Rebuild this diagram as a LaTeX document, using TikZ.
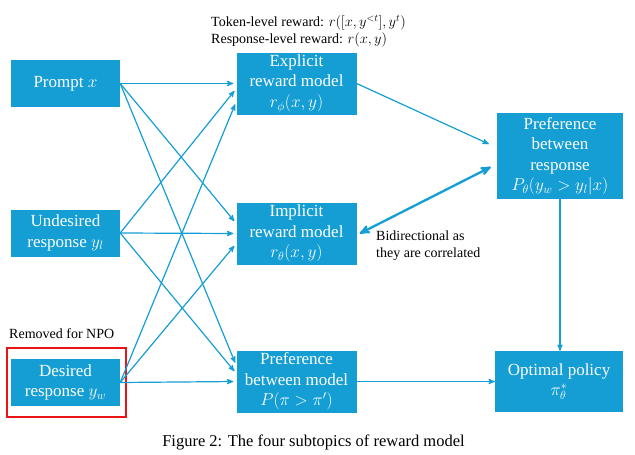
\documentclass[tikz,border=0pt]{standalone}
\usepackage{fontspec}
\setmainfont{Liberation Serif}
\usetikzlibrary{arrows,positioning}
\definecolor{rmblue}{RGB}{20,158,212}
\definecolor{npored}{RGB}{235,20,20}
\tikzset{main node/.style={rectangle,fill=rmblue,draw=none,text=white,align=center,inner sep=1pt,font=\fontsize{17}{20.5}\selectfont},
         in node/.style={main node,minimum width=109pt,minimum height=47pt},
         mid node/.style={main node,minimum width=120pt,minimum height=62pt},
         edge label/.style={rectangle,draw=none,fill=none,inner sep=0pt,font=\fontsize{14}{16.5}\selectfont},
         norm edge/.style={->,rmblue,line width=1.2pt},
         in edge/.style={norm edge,shorten >=3pt},
         bidir edge/.style={<->,rmblue,line width=2.3pt},
         npo frame/.style={draw=npored,line width=1.5pt},
}
\begin{document}
\begin{tikzpicture}[>=stealth', x=1pt, y=-1pt]
% \draw[help lines] (0,0) grid (635,455);
\useasboundingbox (0,0) rectangle (635,455);

\node[in node] (x) at (65.5,83.5) {Prompt $x$};
\node[in node] (yl) at (65.5,233) {Undesired\\response $y_l$};
\node[in node] (yw) at (65.5,382.5) {Desired\\response $y_w$};

\node[mid node] (er) at (296.5,83.5) {Explicit\\reward model\\$r_\phi(x,y)$};
\node[mid node] (ir) at (296.5,233.5) {Implicit\\reward model\\$r_\theta(x,y)$};
\node[mid node] (pm) at (296.5,381.5) {Preference\\between model\\$P(\pi>\pi')$};

\node[main node,minimum width=126pt,minimum height=86pt] (pr) at (560,156) {Preference\\between\\response\\$P_\theta(y_w>y_l|x)$};
\node[main node,minimum width=128pt,minimum height=61pt] (opt) at (559,381.5) {Optimal policy\\$\pi_\theta^*$};

\path[npo frame] ([xshift=-4pt,yshift=-11pt]yw.south west) rectangle ([xshift=6pt,yshift=11pt]yw.north east);

\node[edge label,anchor=base west] (tok) at (211,27) {Token-level reward: $r([x,y^{<t}],y^t)$};
\node[edge label,anchor=base west] (resp) at (211,43) {Response-level reward: $r(x,y)$};
\node[edge label,anchor=base west] (npo) at (9,338) {Removed for NPO};
\node[edge label,anchor=base west] (bidir) at (376,240) {Bidirectional as};
\node[edge label,anchor=base west] (corr) at (376,257) {they are correlated};
\node[edge label,anchor=base,font=\fontsize{16.5}{19}\selectfont] (cap) at (313.5,446.5) {Figure 2: The four subtopics of reward model};

\draw[in edge] (x.east) -- (er.west);
\draw[in edge] (x.east) -- ([yshift=10pt]ir.west);
\draw[in edge] (x.east) -- ([yshift=16pt]pm.west);
\draw[in edge] (yl.east) -- ([yshift=-5pt]er.west);
\draw[in edge] (yl.east) -- (ir.west);
\draw[in edge] (yl.east) -- ([yshift=8pt]pm.west);
\draw[in edge] (yw.east) -- ([yshift=-18pt]er.west);
\draw[in edge] (yw.east) -- ([yshift=-10pt]ir.west);
\draw[in edge] (yw.east) -- (pm.west);

\draw[norm edge] (er.east) -- ([xshift=-8pt,yshift=12pt]pr.west);
\draw[bidir edge] ([xshift=3pt]ir.east) -- ([xshift=-6pt,yshift=-11pt]pr.west);
\draw[norm edge] (pr.south) -- (pr.south |- opt.north);
\draw[norm edge] (pm.east) -- (opt.west);
\end{tikzpicture}
\end{document}
